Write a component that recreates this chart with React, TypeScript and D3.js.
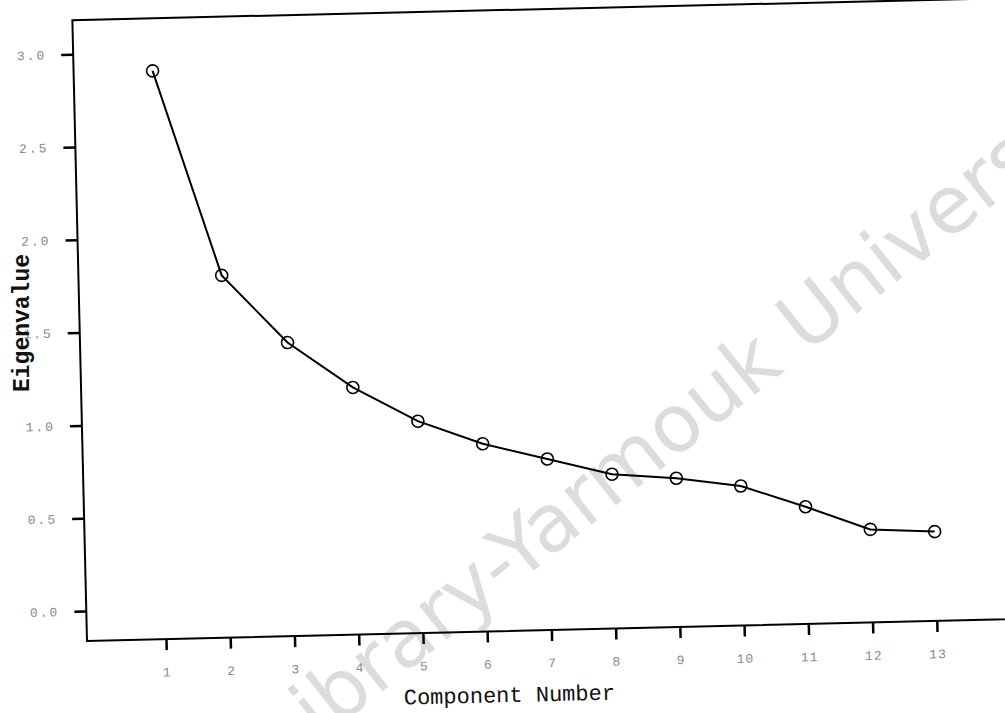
import React, { useRef, useEffect } from "react";
import * as d3 from "d3";

// scree plot values
const components = [1, 2, 3, 4, 5, 6, 7, 8, 9, 10, 11, 12, 13];
const eigenvalues = [2.9, 1.79, 1.42, 1.17, 0.98, 0.85, 0.76, 0.67, 0.64, 0.59, 0.47, 0.34, 0.32];
const yTicks = [0, 0.5, 1, 1.5, 2, 2.5, 3];

const App = () => {
  const svgRef = useRef<SVGSVGElement>(null);

  useEffect(() => {
    const svg = d3.select(svgRef.current);
    svg.selectAll("*").remove();
    const width = 1005;
    const height = 713;
    const corner = { x: 87, y: 641 }; // bottom-left corner of the frame
    const tilt = -1.35; // the scan is slightly rotated

    svg.attr("width", width).attr("height", height);

    svg
      .append("rect")
      .attr("width", width)
      .attr("height", height)
      .attr("fill", "#fff");

    // watermark
    svg
      .append("text")
      .attr("transform", "translate(703,436) rotate(-38.5)")
      .attr("text-anchor", "middle")
      .attr("font-family", "DejaVu Sans")
      .attr("font-size", 80)
      .attr("fill", "#dcdcdc")
      .text("Library-Yarmouk University");

    const g = svg
      .append("g")
      .attr("transform", `rotate(${tilt},${corner.x},${corner.y})`);

    const x = d3.scaleLinear().domain([1, 13]).range([166, 937]);
    const y = d3.scaleLinear().domain([0, 3]).range([611, 54]);

    // frame (right side runs off the page)
    g.append("path")
      .attr("d", `M1130,${corner.y}H${corner.x}V20H1130`)
      .attr("fill", "none")
      .attr("stroke", "#000")
      .attr("stroke-width", 2);

    const yAxis = g
      .append("g")
      .attr("transform", `translate(${corner.x},0)`)
      .call(
        d3
          .axisLeft(y)
          .tickValues(yTicks)
          .tickSize(12)
          .tickPadding(15)
          .tickFormat(d3.format(".1f"))
      );
    yAxis.select(".domain").remove();
    yAxis.selectAll("line").attr("stroke", "#000").attr("stroke-width", 2.5);
    yAxis
      .selectAll("text")
      .attr("font-family", "Liberation Mono")
      .attr("font-size", 13)
      .attr("letter-spacing", 2)
      .attr("fill", "#8a8a8a");

    const xAxis = g
      .append("g")
      .attr("transform", `translate(0,${corner.y})`)
      .call(d3.axisBottom(x).tickValues(components).tickSize(11).tickPadding(17).tickFormat(d3.format("d")));
    xAxis.select(".domain").remove();
    xAxis.selectAll("line").attr("stroke", "#000").attr("stroke-width", 2.5);
    xAxis
      .selectAll("text")
      .attr("font-family", "Liberation Mono")
      .attr("font-size", 13)
      .attr("letter-spacing", 1)
      .attr("fill", "#8a8a8a");

    const pts = components.map((c, i) => ({ c, v: eigenvalues[i] }));

    const line = d3
      .line<{ c: number; v: number }>()
      .x((d) => x(d.c))
      .y((d) => y(d.v));

    g.append("path")
      .datum(pts)
      .attr("fill", "none")
      .attr("stroke", "#000")
      .attr("stroke-width", 2)
      .attr("d", line);

    g.selectAll(".dot")
      .data(pts)
      .enter()
      .append("circle")
      .attr("class", "dot")
      .attr("cx", (d) => x(d.c))
      .attr("cy", (d) => y(d.v))
      .attr("r", 6)
      .attr("fill", "none")
      .attr("stroke", "#000")
      .attr("stroke-width", 1.6);

    g.append("text")
      .attr("x", 508)
      .attr("y", 712)
      .attr("text-anchor", "middle")
      .attr("font-family", "Liberation Mono")
      .attr("font-size", 22)
      .attr("fill", "#111")
      .text("Component Number");

    svg
      .append("text")
      .attr("transform", "translate(29,323) rotate(-90)")
      .attr("text-anchor", "middle")
      .attr("font-family", "Liberation Mono")
      .attr("font-weight", "bold")
      .attr("font-size", 23)
      .attr("fill", "#111")
      .text("Eigenvalue");
  }, []);

  return (
    <svg
      ref={svgRef}
      style={{ position: "absolute", left: 0, top: 0, display: "block" }}
    ></svg>
  );
};

export default App;
